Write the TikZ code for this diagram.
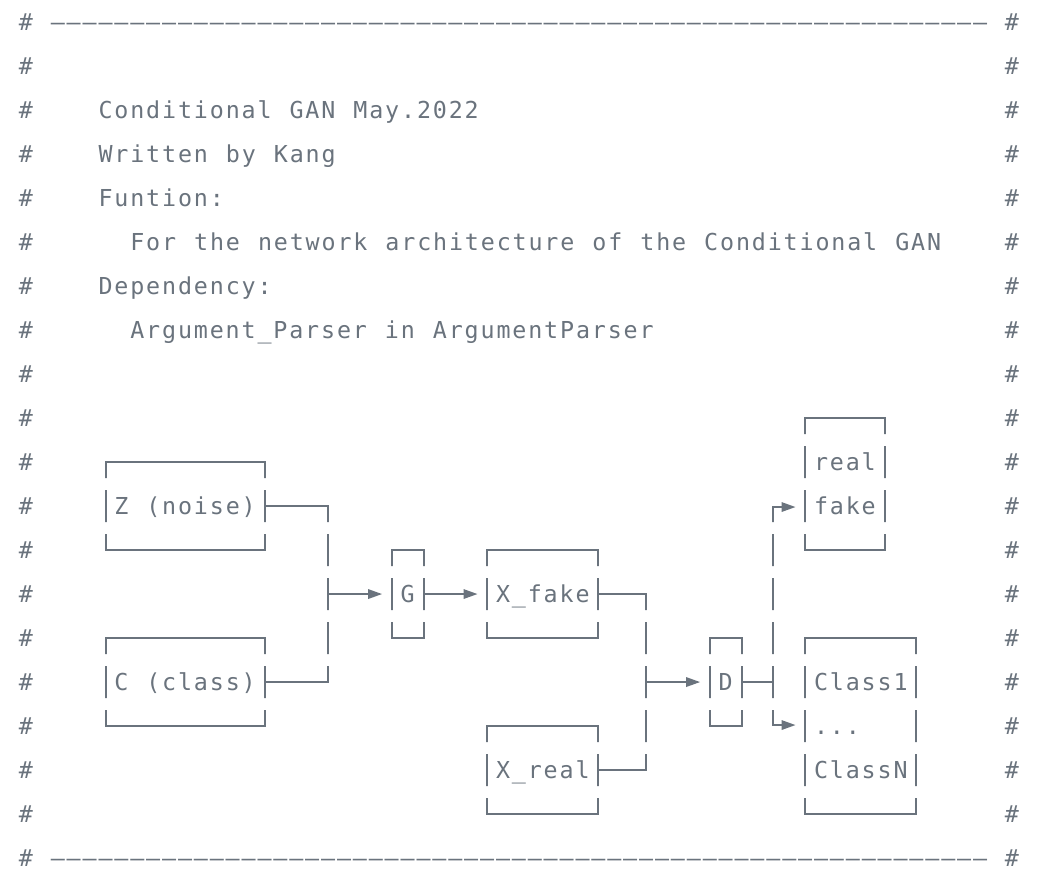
\documentclass[tikz,border=0pt]{standalone}
\usepackage{fontspec}
\setmonofont{DejaVu Sans Mono}[LetterSpace=7.94,WordSpace=1.1318,Ligatures=TeXOff]
\usetikzlibrary{arrows.meta,calc}
\definecolor{ink}{HTML}{6A737D}

\begin{document}
\begin{tikzpicture}[x=11.925pt,y=-33pt,color=ink,line width=1.5pt,
  font=\ttfamily\fontsize{17.5pt}{33pt}\selectfont,
  txt/.style={inner sep=0pt,text height=12.76pt,text depth=0pt},
  box/.style={draw,inner sep=0pt,minimum width=#1*11.925pt,minimum height=66pt,
    text height=12.76pt,text depth=0pt},
  tall/.style={draw,inner sep=0pt,align=left},
  arr/.style={-{Triangle[length=10.5pt,width=7pt]},shorten >=6.4pt}]
\useasboundingbox (-1.635,-0.5) rectangle (63.77,19.4545);

% comment frame
\foreach \r in {0,...,19}{
  \node[txt] (l\r) at (0,\r) {\#};
  \node[txt] (r\r) at (62,\r) {\#};
}
\node[txt,anchor=west] (top) at (1.5,0) {–––––––––––––––––––––––––––––––––––––––––––––––––––––––––––};
\node[txt,anchor=west] (bot) at (1.5,19) {–––––––––––––––––––––––––––––––––––––––––––––––––––––––––––};

% header
\node[txt,anchor=west] (title) at (4.5,2) {Conditional GAN May.2022};
\node[txt,anchor=west] (author) at (4.5,3) {Written by Kang};
\node[txt,anchor=west] (fun) at (4.5,4) {Funtion:};
\node[txt,anchor=west] (fundesc) at (6.5,5) {For the network architecture of the Conditional GAN};
\node[txt,anchor=west] (dep) at (4.5,6) {Dependency:};
\node[txt,anchor=west] (depdesc) at (6.5,7) {Argument\_Parser in ArgumentParser};

% network
\begin{scope}
\clip \foreach \r in {0,...,19}{(-2,\r-0.3636) rectangle (64,\r+0.3636)};
\node[box=10] (z) at (10,11) {Z (noise)};
\node[box=10] (c) at (10,15) {C (class)};
\node[box=2] (g) at (24,13) {G};
\node[box=7] (xf) at (32.5,13) {X\_fake};
\node[box=7] (xr) at (32.5,17) {X\_real};
\node[box=2] (d) at (44,15) {D};
\node[tall,minimum width=5*11.925pt,minimum height=99pt] (rf) at (51.5,10.5) {real\\fake};
\node[tall,minimum width=7*11.925pt,minimum height=132pt] (cls) at (52.5,16) {Class1\\...\\ClassN};

\coordinate (jg) at (19,13);
\coordinate (jd) at (39,15);
\coordinate (jo) at (47,15);
\coordinate (tofake) at ($(rf.south west)+(0,-1)$);
\coordinate (todots) at ($(cls.north west)+(0,2)$);

\draw (z.east) -| (jg);
\draw (c.east) -| (jg);
\draw[arr] (jg) -- (g.west);
\draw[arr] (g.east) -- (xf.west);
\draw (xf.east) -| (jd);
\draw (xr.east) -| (jd);
\draw[arr] (jd) -- (d.west);
\draw (d.east) -- (jo);
\draw[arr] (jo) |- (tofake);
\draw[arr] (jo) |- (todots);
\end{scope}
\end{tikzpicture}
\end{document}
